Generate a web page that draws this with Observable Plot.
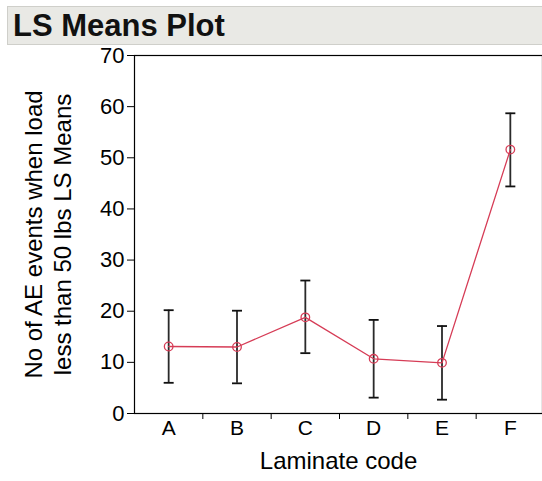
<!DOCTYPE html>
<html>
<head>
<meta charset="utf-8">
<script src="https://cdn.jsdelivr.net/npm/d3@7"></script>
<script src="https://cdn.jsdelivr.net/npm/@observablehq/plot@0.6"></script>
<style>
  body { margin: 0; background: #fff; font-family: "Liberation Sans", Arial, sans-serif; }
  #wrap { position: relative; width: 542px; height: 481px; overflow: hidden; }
  #title { position: absolute; left: 7px; top: 6px; width: 545px; height: 39px; z-index: 2;
           background: #e9e9e5; border: 1px solid #cfcfca; box-sizing: border-box;
           font-weight: bold; font-size: 31px; line-height: 37px; padding-left: 5px; color: #111; }
  #chart { position: absolute; left: 0; top: 30px; z-index: 1; }
</style>
</head>
<body>
<div id="wrap">
  <div id="title">LS Means Plot</div>
  <div id="chart"></div>
</div>
<script>
const categories = ["A", "B", "C", "D", "E", "F"];
const means = [13.1, 13.0, 18.8, 10.7, 9.9, 51.6];
const lower = [6.0, 5.9, 11.8, 3.1, 2.7, 44.4];
const upper = [20.2, 20.1, 26.0, 18.3, 17.1, 58.7];
const yTicks = [0, 10, 20, 30, 40, 50, 60, 70];

const data = categories.map((c, i) => ({cat: c, pos: i + 0.5, mean: means[i], lo: lower[i], hi: upper[i]}));
const centers = categories.map((c, i) => i + 0.5);
const boundaries = categories.slice(1).map((c, i) => i + 1);

const red = "#d63c56";
const capSymbol = {
  draw(ctx, size) {
    const r = Math.sqrt(size / Math.PI);
    ctx.moveTo(-r, 0);
    ctx.lineTo(r, 0);
  }
};

const chart = Plot.plot({
  width: 542,
  height: 451,
  marginTop: 25,
  marginBottom: 68,
  marginLeft: 134,
  marginRight: 0,
  style: {fontFamily: "Liberation Sans, Arial, sans-serif", fontSize: "22px", color: "#000", background: "transparent"},
  x: {type: "linear", domain: [0, categories.length], range: [134, 544]},
  y: {domain: [0, 70]},
  marks: [
    Plot.frame({stroke: "#000", strokeWidth: 1.2}),
    Plot.axisY({ticks: yTicks, tickSize: 7, tickPadding: 3, fontSize: 22, label: null, stroke: "#000"}),
    Plot.axisX({ticks: boundaries, tickSize: 6, tickFormat: () => "", label: null, stroke: "#000"}),
    Plot.axisX({ticks: centers, tickSize: 0, tickPadding: 7, fontSize: 21,
                tickFormat: d => categories[Math.round(d - 0.5)], label: null}),
    Plot.text(["Laminate code"], {frameAnchor: "bottom", dy: 48, fontSize: 24, lineAnchor: "middle", fill: "#000"}),
    Plot.text(["No of AE events when load\nless than 50 lbs LS Means"], {
      frameAnchor: "left", dx: -87, rotate: -90, fontSize: 24, lineHeight: 1.17,
      textAnchor: "middle", lineAnchor: "middle", fill: "#000"
    }),
    Plot.ruleX(data, {x: "pos", y1: "lo", y2: "hi", stroke: "#2a2a2a", strokeWidth: 1.8}),
    Plot.dot(data, {x: "pos", y: "lo", symbol: capSymbol, r: 5, stroke: "#111", strokeWidth: 1.8}),
    Plot.dot(data, {x: "pos", y: "hi", symbol: capSymbol, r: 5, stroke: "#111", strokeWidth: 1.8}),
    Plot.line(data, {x: "pos", y: "mean", stroke: red, strokeWidth: 1.3}),
    Plot.dot(data, {x: "pos", y: "mean", r: 4.3, stroke: red, strokeWidth: 1.3, fill: "none"})
  ]
});
document.getElementById("chart").appendChild(chart);
</script>
</body>
</html>
